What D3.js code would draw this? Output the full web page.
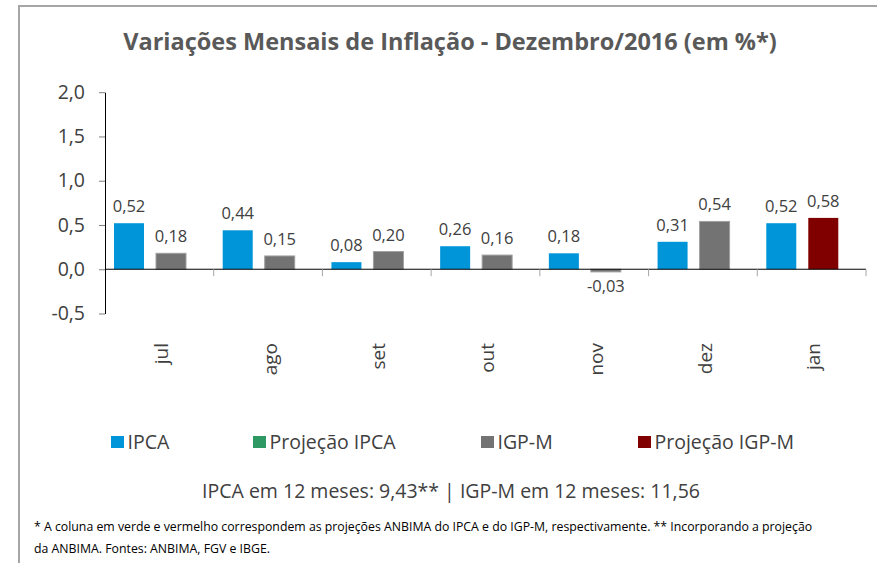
<!DOCTYPE html>
<html>
<head>
<meta charset="utf-8">
<script src="https://cdn.jsdelivr.net/npm/d3@7"></script>
<style>
  body { margin: 0; background: #fff; }
  text { font-family: "Open Sans", Lato, sans-serif; }
</style>
</head>
<body>
<div id="container"></div>
<script>
// data
const months = ['jul', 'ago', 'set', 'out', 'nov', 'dez', 'jan'];
const ipca = [0.52, 0.44, 0.08, 0.26, 0.18, 0.31, 0.52];
const projIpca = [null, null, null, null, null, null, null];
const igpm = [0.18, 0.15, 0.20, 0.16, -0.03, 0.54, null];
const projIgpm = [null, null, null, null, null, null, 0.58];
const yTicks = [-0.5, 0, 0.5, 1, 1.5, 2];
const seriesNames = ['IPCA', 'Projeção IPCA', 'IGP-M', 'Projeção IGP-M'];
const summary = 'IPCA em 12 meses: 9,43** | IGP-M em 12 meses: 11,56';
const note1 = '* A coluna em verde e vermelho correspondem as projeções ANBIMA do IPCA e do IGP-M, respectivamente. ** Incorporando a projeção';
const note2 = 'da ANBIMA. Fontes: ANBIMA, FGV e IBGE.';

const WIDTH = 877;
const HEIGHT = 563;

const series = [
  { name: seriesNames[0], values: ipca, slot: 0, color: '#0095d9' },
  { name: seriesNames[1], values: projIpca, slot: 0, color: '#2e9963' },
  { name: seriesNames[2], values: igpm, slot: 1, color: '#737373' },
  { name: seriesNames[3], values: projIgpm, slot: 1, color: '#800000' }
];

const br = d3.formatLocale({ decimal: ',', thousands: '.', grouping: [3], currency: ['R$', ''], minus: '-' });
const fmt1 = br.format('.1f');
const fmt2 = br.format('.2f');

let canvas = d3.select('#container').append('svg').attr('width', WIDTH).attr('height', HEIGHT);

// frame
canvas.append('path')
  .attr('d', `M${WIDTH},6 H19 V${HEIGHT}`)
  .attr('fill', 'none').attr('stroke', '#a6a6a6').attr('stroke-width', 2);

canvas.append('text')
  .attr('x', 450).attr('y', 50)
  .attr('text-anchor', 'middle')
  .attr('font-size', 23.5).attr('font-weight', 'bold')
  .attr('fill', '#595959')
  .text('Variações Mensais de Inflação - Dezembro/2016 (em %*)');

let x0 = d3.scaleBand().domain(months).range([105, 866]);
let x1 = d3.scaleBand().domain([0, 1]).range([9, 81]).paddingInner(0.2857);
let y = d3.scaleLinear().domain([-0.5, 2]).range([313.5, 92.2]);

// y axis
let yAxis = canvas.append('g')
  .attr('transform', 'translate(105,0)')
  .call(d3.axisLeft(y).tickValues(yTicks).tickFormat(fmt1).tickSize(6).tickSizeOuter(0).tickPadding(14));
yAxis.select('.domain').attr('stroke', '#000');
yAxis.selectAll('.tick line').attr('stroke', '#7f7f7f');
yAxis.selectAll('.tick text').attr('font-size', 19.5).attr('fill', '#404040').attr('font-family', '"Open Sans", sans-serif');

// bars
let bars = [];
series.forEach((s) => {
  s.values.forEach((v, i) => {
    if (v !== null) bars.push({ month: months[i], value: v, slot: s.slot, color: s.color, name: s.name });
  });
});

canvas.append('g').selectAll('rect').data(bars).join('rect')
  .attr('x', (d) => x0(d.month) + x1(d.slot))
  .attr('width', x1.bandwidth())
  .attr('y', (d) => y(Math.max(0, d.value)))
  .attr('height', (d) => Math.abs(y(d.value) - y(0)))
  .attr('fill', (d) => d.color)
  .attr('stroke', (d) => d.name === 'IGP-M' ? '#a0a0a0' : 'none')
  .attr('stroke-width', 1);

canvas.append('g')
  .attr('font-size', 16.5).attr('fill', '#404040').attr('text-anchor', 'middle')
  .selectAll('text').data(bars).join('text')
  .attr('x', (d) => x0(d.month) + x1(d.slot) + x1.bandwidth() / 2)
  .attr('y', (d) => d.value >= 0 ? y(d.value) - 11 : y(d.value) + 20)
  .text((d) => fmt2(d.value));

// x axis line and category ticks
let xAxis = canvas.append('g');
xAxis.append('line')
  .attr('x1', x0.range()[0]).attr('x2', x0.range()[1])
  .attr('y1', y(0)).attr('y2', y(0))
  .attr('stroke', '#000');
xAxis.selectAll('.cat-tick').data(months).join('line')
  .attr('class', 'cat-tick')
  .attr('x1', (d) => x0(d) + x0.bandwidth()).attr('x2', (d) => x0(d) + x0.bandwidth())
  .attr('y1', y(0)).attr('y2', y(0) + 7)
  .attr('stroke', '#a6a6a6');
xAxis.selectAll('.cat-label').data(months).join('text')
  .attr('class', 'cat-label')
  .attr('transform', (d) => `translate(${x0(d) + x0.bandwidth() / 2 + 2},343) rotate(-90)`)
  .attr('dy', '0.35em')
  .attr('text-anchor', 'end')
  .attr('font-size', 19).attr('fill', '#404040')
  .text((d) => d);

// legend
const legendX = [111, 253, 481, 638];
let legend = canvas.append('g').selectAll('g').data(series).join('g')
  .attr('transform', (d, i) => `translate(${legendX[i]},436)`);
legend.append('rect').attr('width', 13).attr('height', 12).attr('fill', (d) => d.color);
legend.append('text')
  .attr('x', 16.5).attr('y', 12.5)
  .attr('font-size', 19.5).attr('fill', '#404040')
  .text((d) => d.name);

canvas.append('text')
  .attr('x', 451).attr('y', 498)
  .attr('text-anchor', 'middle')
  .attr('font-size', 19.5).attr('fill', '#404040')
  .text(summary);

canvas.append('g')
  .attr('font-size', 12.3).attr('fill', '#000')
  .selectAll('text').data([note1, note2]).join('text')
  .attr('x', 34).attr('y', (d, i) => 531 + i * 22)
  .text((d) => d);
</script>
</body>
</html>
